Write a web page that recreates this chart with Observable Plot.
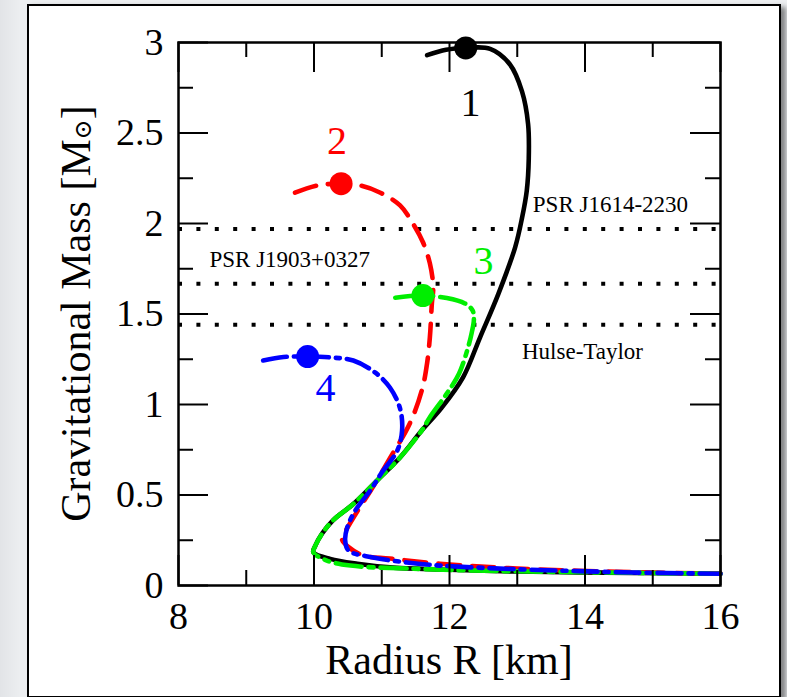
<!DOCTYPE html>
<html>
<head>
<meta charset="utf-8">
<script src="https://cdn.jsdelivr.net/npm/d3@7"></script>
<script src="https://cdn.jsdelivr.net/npm/@observablehq/plot@0.6"></script>
<style>
  html, body { margin: 0; padding: 0; }
  body { width: 787px; height: 697px; overflow: hidden; position: relative;
         background: linear-gradient(to right, #e2e4e7 0px, #eceef0 20px, #eceef0 100%); }
  #box { position: absolute; left: 27px; top: 4px; width: 750px; height: 690px;
         border: 2px solid #000; background: #fff;
         box-shadow: 5px 3px 5px rgba(0,0,0,0.45); }
  #chart { position: absolute; left: 0; top: 0; }
</style>
</head>
<body>
<div id="box"></div>
<div id="chart"></div>
<script>
// ---- data ----
const curve1R = [11.67, 11.95, 12.24, 12.6, 12.89, 13.07, 13.16, 13.17, 13.14, 13.07, 12.97, 12.72, 12.45, 12.20, 11.88, 11.59, 11.27, 10.93, 10.58, 10.28, 10.12, 10.02, 9.99, 10.24, 10.64, 11.12, 11.86, 13.0, 14.7, 16.0];
const curve1M = [2.93, 2.96, 2.97, 2.965, 2.88, 2.73, 2.55, 2.36, 2.18, 2.03, 1.87, 1.61, 1.37, 1.15, 0.98, 0.856, 0.707, 0.58, 0.45, 0.36, 0.287, 0.22, 0.184, 0.147, 0.12, 0.10, 0.088, 0.077, 0.07, 0.065];

const curve2R = [9.72, 10.05, 10.40, 10.68, 10.98, 11.27, 11.46, 11.61, 11.71, 11.76, 11.74, 11.71, 11.67, 11.6, 11.42, 11.1, 10.83, 10.64, 10.45, 10.41, 10.51, 10.73, 11.12, 11.86, 13.0, 14.7, 16.0];
const curve2M = [2.17, 2.21, 2.22, 2.21, 2.17, 2.10, 2.0, 1.895, 1.78, 1.65, 1.56, 1.37, 1.23, 1.09, 0.9, 0.69, 0.52, 0.41, 0.29, 0.258, 0.212, 0.166, 0.149, 0.12, 0.094, 0.074, 0.066];

const curve3R = [11.2, 11.61, 11.96, 12.22, 12.34, 12.36, 12.33, 12.27, 12.14, 11.96, 11.71, 11.59, 11.27, 10.93, 10.58, 10.28, 10.12, 10.02, 9.99, 10.19, 10.54, 11.37, 12.75, 14.7, 16.0];
const curve3M = [1.59, 1.602, 1.588, 1.56, 1.52, 1.47, 1.40, 1.31, 1.17, 1.06, 0.93, 0.856, 0.707, 0.58, 0.45, 0.36, 0.287, 0.22, 0.184, 0.138, 0.11, 0.094, 0.08, 0.07, 0.065];

const curve4R = [9.25, 9.55, 9.906, 10.24, 10.58, 10.9, 11.12, 11.27, 11.3, 11.23, 11.0, 10.83, 10.61, 10.49, 10.46, 10.51, 10.87, 11.37, 11.86, 13.0, 14.7, 16.0];
const curve4M = [1.243, 1.262, 1.265, 1.26, 1.243, 1.177, 1.094, 0.978, 0.856, 0.746, 0.624, 0.525, 0.414, 0.32, 0.25, 0.193, 0.155, 0.127, 0.11, 0.09, 0.072, 0.065];

const maxR = [12.24, 10.40, 11.607, 9.906];
const maxM = [2.97, 2.22, 1.602, 1.265];
const curveNames = ["1", "2", "3", "4"];
const curveColors = ["#000000", "#ff0000", "#00ee00", "#0000ff"];
const numLabelR = [12.31, 10.34, 12.50, 10.17];
const numLabelM = [2.663, 2.453, 1.79, 1.088];

const pulsarMasses = [1.97, 1.667, 1.44];
const pulsarNames = ["PSR J1614-2230", "PSR J1903+0327", "Hulse-Taylor"];
const pulsarLabelR = [13.23, 8.457, 13.07];
const pulsarLabelM = [2.061, 1.762, 1.254];

const xMajor = [8, 10, 12, 14, 16];
const xMajorLabels = ["8", "10", "12", "14", "16"];
const xMinor = [9, 11, 13, 15];
const yMajor = [0, 0.5, 1, 1.5, 2, 2.5, 3];
const yMajorLabels = ["0", "0.5", "1", "1.5", "2", "2.5", "3"];
const yMinor = [0.25, 0.75, 1.25, 1.75, 2.25, 2.75];

const xLabel = "Radius R [km]";
const yLabelMain = "Gravitational Mass [M";
const yLabelSym = "\u2299";
const yLabelEnd = "]";

// ---- layout ----
const W = 787, H = 697;
const mL = 178, mR = 67, mT = 42, mB = 112;
const plotW = W - mL - mR, plotH = H - mT - mB;
const majLen = 30, minLen = 15;
const serif = "Liberation Serif";
const lw = 4.6;

const toPts = (R, M) => R.map((r, i) => ({R: r, M: M[i]}));
const c1 = toPts(curve1R, curve1M);
const c2 = toPts(curve2R, curve2M);
const c3 = toPts(curve3R, curve3M);
const c4 = toPts(curve4R, curve4M);
const dots = maxR.map((r, i) => ({R: r, M: maxM[i], c: curveColors[i]}));
const nums = numLabelR.map((r, i) => ({R: r, M: numLabelM[i], t: curveNames[i], c: curveColors[i]}));
const psr = pulsarLabelR.map((r, i) => ({R: r, M: pulsarLabelM[i], t: pulsarNames[i]}));

const chart = Plot.plot({
  width: W, height: H,
  marginLeft: mL, marginRight: mR, marginTop: mT, marginBottom: mB,
  style: {background: "transparent", fontFamily: serif, overflow: "visible"},
  x: {domain: [8, 16]},
  y: {domain: [0, 3]},
  marks: [
    Plot.ruleY(pulsarMasses, {stroke: "#000", strokeWidth: 4, strokeDasharray: "4,14.4"}),
    Plot.line(c1, {x: "R", y: "M", stroke: curveColors[0], strokeWidth: lw, curve: "catmull-rom"}),
    Plot.line(c2, {x: "R", y: "M", stroke: curveColors[1], strokeWidth: lw, strokeDasharray: "22,12", curve: "catmull-rom"}),
    Plot.line(c3, {x: "R", y: "M", stroke: curveColors[2], strokeWidth: lw, strokeDasharray: "26,7,5,7", curve: "catmull-rom"}),
    Plot.line(c4, {x: "R", y: "M", stroke: curveColors[3], strokeWidth: lw, strokeDasharray: "24,7,4,7", curve: "catmull-rom"}),
    Plot.dot(dots, {x: "R", y: "M", r: 11.5, fill: "c", stroke: null}),
    Plot.text(nums, {x: "R", y: "M", text: "t", fill: "c", fontSize: 40, fontFamily: serif}),
    Plot.text(psr, {x: "R", y: "M", text: "t", fill: "#000", fontSize: 23, fontFamily: serif, textAnchor: "start", lineAnchor: "bottom"}),
    Plot.frame({stroke: "#000", strokeWidth: 2.5}),
    Plot.tickX(xMajor, {x: d => d, stroke: "#000", strokeWidth: 2, insetTop: plotH - majLen}),
    Plot.tickX(xMajor, {x: d => d, stroke: "#000", strokeWidth: 2, insetBottom: plotH - majLen}),
    Plot.tickX(xMinor, {x: d => d, stroke: "#000", strokeWidth: 2, insetTop: plotH - minLen}),
    Plot.tickX(xMinor, {x: d => d, stroke: "#000", strokeWidth: 2, insetBottom: plotH - minLen}),
    Plot.tickY(yMajor, {y: d => d, stroke: "#000", strokeWidth: 2, insetRight: plotW - majLen}),
    Plot.tickY(yMajor, {y: d => d, stroke: "#000", strokeWidth: 2, insetLeft: plotW - majLen}),
    Plot.tickY(yMinor, {y: d => d, stroke: "#000", strokeWidth: 2, insetRight: plotW - minLen}),
    Plot.tickY(yMinor, {y: d => d, stroke: "#000", strokeWidth: 2, insetLeft: plotW - minLen}),
    Plot.axisX({ticks: xMajor, tickSize: 0, tickPadding: 17, fontSize: 38, fill: "#000", fontFamily: serif,
      tickFormat: d => xMajorLabels[xMajor.indexOf(d)], label: null}),
    Plot.axisY({ticks: yMajor, tickSize: 0, tickPadding: 15, fontSize: 38, fill: "#000", fontFamily: serif,
      tickFormat: d => yMajorLabels[yMajor.indexOf(d)], label: null})
  ]
});

const svg = d3.select(chart);
svg.append("text")
  .attr("x", mL + plotW / 2).attr("y", 674)
  .attr("text-anchor", "middle")
  .attr("font-family", serif).attr("font-size", 42).attr("fill", "#000")
  .text(xLabel);

const yl = svg.append("text")
  .attr("transform", `translate(90,${mT + plotH / 2}) rotate(-90)`)
  .attr("text-anchor", "middle")
  .attr("font-family", serif).attr("font-size", 42).attr("fill", "#000");
yl.append("tspan").text(yLabelMain);
yl.append("tspan").attr("font-size", 24).attr("font-family", "DejaVu Serif").attr("dy", "1").text(yLabelSym);
yl.append("tspan").attr("dy", "-1").text(yLabelEnd);

document.getElementById("chart").appendChild(chart);
</script>
</body>
</html>
